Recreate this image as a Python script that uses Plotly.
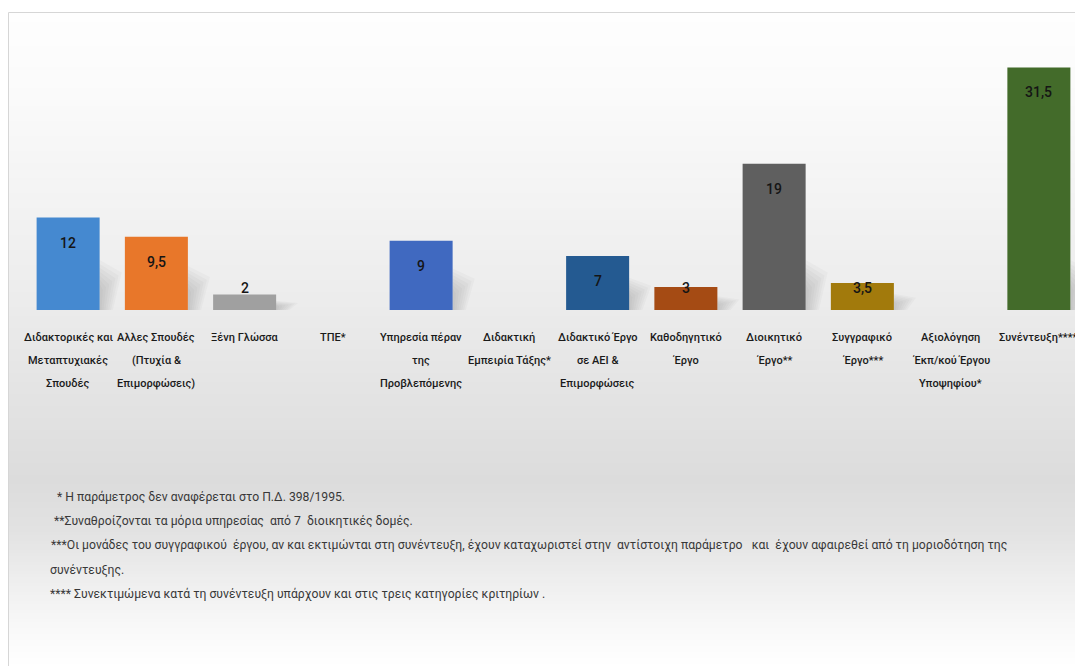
import plotly.graph_objects as go

# ---------------- data ----------------
categories = [
    "Διδακτορικές και Μεταπτυχιακές Σπουδές",
    "Αλλες Σπουδές (Πτυχία & Επιμορφώσεις)",
    "Ξένη Γλώσσα",
    "ΤΠΕ*",
    "Υπηρεσία πέραν της Προβλεπόμενης",
    "Διδακτική Εμπειρία Τάξης*",
    "Διδακτικό Έργο σε ΑΕΙ & Επιμορφώσεις",
    "Καθοδηγητικό Έργο",
    "Διοικητικό Έργο**",
    "Συγγραφικό Έργο***",
    "Αξιολόγηση Έκπ/κού Έργου Υποψηφίου*",
    "Συνέντευξη****",
]
label_lines = [
    ["Διδακτορικές και", "Μεταπτυχιακές", "Σπουδές"],
    ["Αλλες Σπουδές", "(Πτυχία &", "Επιμορφώσεις)"],
    ["Ξένη Γλώσσα"],
    ["ΤΠΕ*"],
    ["Υπηρεσία πέραν", "της", "Προβλεπόμενης"],
    ["Διδακτική", "Εμπειρία Τάξης*"],
    ["Διδακτικό Έργο", "σε ΑΕΙ &", "Επιμορφώσεις"],
    ["Καθοδηγητικό", "Έργο"],
    ["Διοικητικό", "Έργο**"],
    ["Συγγραφικό", "Έργο***"],
    ["Αξιολόγηση", "Έκπ/κού Έργου", "Υποψηφίου*"],
    ["Συνέντευξη****"],
]
values = [12, 9.5, 2, None, 9, None, 7, 3, 19, 3.5, None, 31.5]
bar_colors = ["#4589D0", "#E8772A", "#A0A0A0", "#FFFFFF", "#4069C0", "#FFFFFF",
              "#245A91", "#A54B14", "#5F5F5F", "#A27A0C", "#FFFFFF", "#436B2A"]
footnotes = [
    "* Η παράμετρος δεν αναφέρεται στο Π.Δ. 398/1995.",
    "**Συναθροίζονται τα μόρια υπηρεσίας\u00a0 από 7\u00a0 διοικητικές δομές.",
    "***Οι μονάδες του συγγραφικού\u00a0 έργου, αν και εκτιμώνται στη συνέντευξη, έχουν καταχωριστεί στην\u00a0 αντίστοιχη παράμετρο\u00a0\u00a0 και\u00a0 έχουν αφαιρεθεί από τη μοριοδότηση της",
    "συνέντευξης.",
    "**** Συνεκτιμώμενα κατά τη συνέντευξη υπάρχουν και στις τρεις κατηγορίες κριτηρίων .",
]

# ---------------- layout geometry (pixels, page coordinates) ----------------
OFF = 8                      # page body margin
W, H = 1083 - OFF, 666 - OFF  # figure size
L, R, T, B = 24, 1083, 40, 310  # plot area in page pixels
YMAX = 35.06
BARGAP = 0.286

def px_x(px):
    return (px - L) / (R - L)

def px_y(py):
    return (B - py) / (B - T)

FONT = "Roboto, Liberation Sans, sans-serif"

fig = go.Figure()
fig.add_trace(go.Bar(
    x=categories, y=values,
    marker=dict(color=bar_colors, line=dict(width=0)),
    hoverinfo="x+y",
))

annotations = []
# value labels
for cat, v in zip(categories, values):
    if v is None:
        continue
    ly = max(v - 3.25, 2.85)
    txt = ("%g" % v).replace(".", ",")
    annotations.append(dict(x=cat, y=ly, xref="x", yref="y", text=txt,
                            showarrow=False, yanchor="middle",
                            font=dict(family=FONT, size=14, color="#151515", weight=500)))
# category labels (one annotation per line)
for cat, lines in zip(categories, label_lines):
    for j, line in enumerate(lines):
        annotations.append(dict(x=cat, y=px_y(337 + 23.3 * j), xref="x", yref="paper",
                                text=line, showarrow=False, yanchor="middle",
                                font=dict(family=FONT, size=11, color="#1A1A1A", weight=500)))
# footnotes
fn_x = [55, 52, 49, 48, 48]
for i, (txt, fx) in enumerate(zip(footnotes, fn_x)):
    annotations.append(dict(x=px_x(fx), y=px_y(497 + 24.4 * i), xref="paper", yref="paper",
                            text=txt, showarrow=False, xanchor="left", yanchor="middle",
                            font=dict(family=FONT, size=12.2, color="#383838")))

# background gradient (white -> light grey -> white)
stops = [(12, 254), (100, 250), (200, 243), (300, 236), (400, 227), (480, 220),
         (530, 226), (580, 238), (620, 247), (666, 255)]

def grey_at(py):
    for (y0, c0), (y1, c1) in zip(stops[:-1], stops[1:]):
        if y0 <= py <= y1:
            t = (py - y0) / (y1 - y0)
            return int(round(c0 + (c1 - c0) * t))
    return 255

shapes = []
step = 3
py = 13
while py < 666:
    g = grey_at(py + step / 2)
    shapes.append(dict(type="rect", xref="paper", yref="paper", layer="below",
                       x0=px_x(9), x1=px_x(1090), y0=px_y(py + step), y1=px_y(py),
                       fillcolor="rgb(%d,%d,%d)" % (g, g, g), line=dict(width=0)))
    py += step
# frame
shapes.append(dict(type="rect", xref="paper", yref="paper", layer="below",
                   x0=px_x(8.5), x1=px_x(1095), y0=px_y(675), y1=px_y(12.5),
                   fillcolor="rgba(0,0,0,0)", line=dict(color="#D6D6D6", width=1)))

# soft perspective shadows behind the bars (lower right), derived from bar values
half = (1 - BARGAP) / 2
layers = 7
for i, v in enumerate(values):
    if v is None:
        continue
    hmax = min(6.5, v * 0.6)
    for k in range(layers):
        f = 1.0 - k / layers
        dx = 0.25 * f
        h = hmax * (0.45 + 0.55 * f)
        xr = i + half
        path = "M %f,0 L %f,%f L %f,%f L %f,0 Z" % (
            xr, xr, h, xr + dx, h * 0.75, xr + dx * 0.6)
        shapes.append(dict(type="path", xref="x", yref="y", layer="below", path=path,
                           fillcolor="rgba(70,70,70,0.03)", line=dict(width=0)))

fig.update_layout(
    width=W, height=H,
    margin=dict(l=L - OFF, r=(1083 - R), t=T - OFF, b=666 - B),
    paper_bgcolor="white", plot_bgcolor="rgba(0,0,0,0)",
    bargap=BARGAP,
    showlegend=False,
    xaxis=dict(type="category", showticklabels=False, showgrid=False, zeroline=False,
               showline=False, ticks="", range=[-0.5, 11.5]),
    yaxis=dict(range=[0, YMAX], visible=False, showgrid=False, zeroline=False),
    annotations=annotations,
    shapes=shapes,
    font=dict(family=FONT),
)

fig.write_html("out.html")
